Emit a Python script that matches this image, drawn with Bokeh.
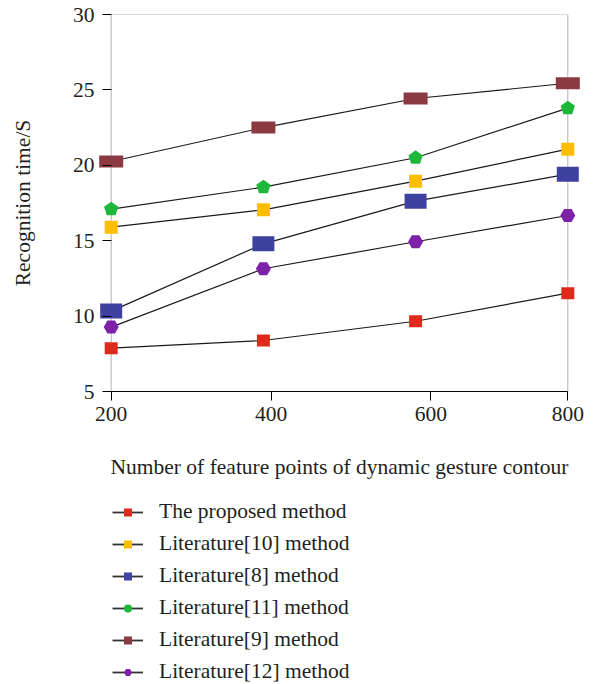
from bokeh.plotting import figure
from bokeh.layouts import column
from bokeh.models import Range1d, FixedTicker, BoxAnnotation, Legend, LegendItem, LinearAxis
from bokeh.embed import file_html
from bokeh.resources import INLINE

# ---- data ----
x_points = [200, 400, 600, 800]
proposed = [7.87, 8.38, 9.66, 11.52]
lit10 = [15.9, 17.05, 18.95, 21.07]
lit8 = [10.33, 14.79, 17.62, 19.41]
lit11 = [17.09, 18.55, 20.5, 23.79]
lit9 = [20.25, 22.5, 24.43, 25.44]
lit12 = [9.27, 13.14, 14.93, 16.67]

series_labels = ["The proposed method", "Literature[10] method", "Literature[8] method",
                 "Literature[11] method", "Literature[9] method", "Literature[12] method"]

x_tick_values = [200, 410, 620, 800]
x_tick_labels = ["200", "400", "600", "800"]
y_tick_values = [5, 10, 15, 20, 25, 30]

x_title = "Number of feature points of dynamic gesture contour"
y_title = "Recognition time/S"

FONT = "Liberation Serif"
FS = "21.5px"
TXT = "#231f20"

p = figure(width=593, height=484, x_range=Range1d(182, 818), y_range=Range1d(5, 30),
           output_backend="svg", toolbar_location=None,
           x_axis_location=None, y_axis_location=None,
           min_border_left=97, min_border_right=12, min_border_top=14, min_border_bottom=93)
p.xgrid.visible = False
p.ygrid.visible = False
p.outline_line_color = None
p.background_fill_color = "white"
p.border_fill_color = "white"

box = BoxAnnotation(left=200, right=800, bottom=5, top=30, fill_alpha=0,
                    line_color="black", line_width=1, level="underlay")
p.add_layout(box)

yaxis = LinearAxis(ticker=FixedTicker(ticks=y_tick_values), axis_label=y_title)
xaxis = LinearAxis(ticker=FixedTicker(ticks=x_tick_values), axis_label=x_title,
                   bounds=(200, 800))
xaxis.major_label_overrides = {v: l for v, l in zip(x_tick_values, x_tick_labels)}
for ax in (xaxis, yaxis):
    ax.axis_line_color = "black"
    ax.major_tick_line_color = "black"
    ax.major_label_text_font = FONT
    ax.major_label_text_font_size = FS
    ax.major_label_text_color = TXT
    ax.axis_label_text_font = FONT
    ax.axis_label_text_font_size = FS
    ax.axis_label_text_font_style = "normal"
    ax.axis_label_text_color = TXT
# y axis sits at the frame edge (x=182); ticks shifted to start at x=200
yaxis.axis_line_color = None
yaxis.major_tick_in = 14
yaxis.major_tick_out = -5
yaxis.minor_tick_in = 0
yaxis.minor_tick_out = -5
yaxis.major_label_standoff = 3
yaxis.axis_label_standoff = 35
xaxis.major_tick_in = 0
xaxis.major_tick_out = 9
xaxis.minor_tick_in = 0
xaxis.minor_tick_out = 0
xaxis.major_label_standoff = 6
xaxis.axis_label_standoff = 31
p.add_layout(yaxis, "left")
p.add_layout(xaxis, "below")

# legend panel figure (its proxy glyphs lie outside its visible ranges)
q = figure(width=593, height=200, x_range=Range1d(0, 1), y_range=Range1d(0, 1),
           output_backend="svg", toolbar_location=None,
           x_axis_location=None, y_axis_location=None, min_border=0)
q.xgrid.visible = False
q.ygrid.visible = False
q.outline_line_color = None
q.background_fill_color = "white"
q.border_fill_color = "white"

LINE = "#1a1a1a"
items = []

def add_series(yvals, label, color, kind, legend_marker, w=13, h=12):
    p.line(x_points, yvals, line_color=LINE, line_width=1.2)
    if kind == "rect":
        p.rect(x_points, yvals, width=w, height=h, width_units="screen", height_units="screen",
               fill_color=color, line_color=None)
    elif kind == "pent":
        p.ngon(x_points, yvals, radius=7.5, n=5, radius_units="screen", angle=0,
               fill_color=color, line_color=None)
    else:
        p.scatter(x_points, yvals, marker=kind, size=w, fill_color=color, line_color=None)
    lr = q.line(x_points, yvals, line_color="#333333", line_width=1.8)
    proxy = q.scatter(x_points, yvals, marker=legend_marker, size=8, fill_color=color,
                      line_color=None)
    items.append(LegendItem(label=label, renderers=[lr, proxy]))

add_series(proposed, series_labels[0], "#dd2a1b", "rect", "square", 13, 12)
add_series(lit10, series_labels[1], "#fbbe00", "rect", "square", 13, 13)
add_series(lit8, series_labels[2], "#4040a0", "rect", "square", 22, 15)
add_series(lit11, series_labels[3], "#1db83a", "pent", "circle")
add_series(lit9, series_labels[4], "#8b3a42", "rect", "square", 24, 12)
add_series(lit12, series_labels[5], "#7b22a8", "hex", "hex", 15)

legend = Legend(items=items, location=(15, 0), orientation="vertical", padding=0, margin=0,
                spacing=7, glyph_width=31, glyph_height=20, label_height=23, label_standoff=16,
                border_line_color=None, background_fill_alpha=0,
                label_text_font=FONT, label_text_font_size=FS, label_text_color=TXT)
q.add_layout(legend)

layout = column(p, q, spacing=0)
open("out.html", "w").write(file_html(layout, INLINE))
